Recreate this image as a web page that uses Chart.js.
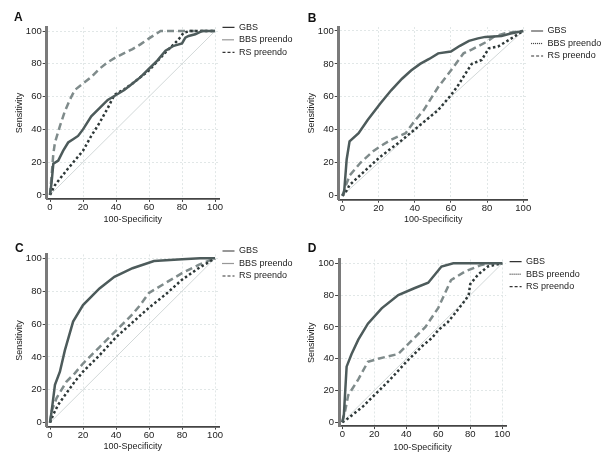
<!DOCTYPE html>
<html>
<head>
<meta charset="utf-8">
<script src="https://cdn.jsdelivr.net/npm/chart.js@4/dist/chart.umd.min.js"></script>
<style>
  body { margin: 0; background: #fff; }
  #wrap { position: relative; width: 613px; height: 462px; overflow: hidden; }
  canvas { position: absolute; }
</style>
</head>
<body>
<div id="wrap"></div>
<script>
// DATA: ROC points [100-Specificity, Sensitivity]
const seriesLabels = ["GBS", "BBS preendo", "RS preendo"];
const tickValues = [0, 20, 40, 60, 80, 100];
const panelLetters = ["A", "B", "C", "D"];

const gbsA = [[0,0],[1,8],[2,19],[5,21],[8,27],[11,32],[14,34],[17,36],[20,40],[25,48],[30,53],[35,58],[40,61],[45,64],[50,68],[55,72],[60,77],[65,82],[70,88],[75,91],[80,92.5],[82,96],[84,97],[88,98],[92,100],[100,100]];
const bbsA = [[0,0],[1,2],[3,6],[10,15],[20,27],[25,36],[30,44],[35,53],[39,61],[45,64.5],[50,68],[60,76],[70,87],[75,92],[78,95],[81,99],[85,100],[100,100]];
const rsA = [[0,0],[1,12],[2,25],[3,32],[6,42],[9,51],[12,58],[15,64],[20,68],[25,72],[30,77],[35,81],[40,84],[50,89],[55,92],[60,95.5],[67,100],[100,100]];

const gbsB = [[0,0],[1,2],[2.4,22],[4,33],[9,38],[14,46],[21,56],[27,64],[33,71],[38,76],[43,80],[48,83],[53,86.4],[60,87.5],[65,91],[70,94],[75,95.5],[79,96.4],[88,97],[93,98.5],[100,100]];
const bbsB = [[0,0],[1.5,1.4],[4,6.5],[11,13.6],[21,23.7],[31,32],[42,42],[53,52],[60,61],[64,67],[68,74],[71.5,80],[77,82.4],[81,89.5],[86,90.5],[92,94.5],[100,100]];
const rsB = [[0,0],[2.4,7.5],[4.2,12.5],[10,20],[17,27],[21,30],[27,34],[35,38],[39,44],[45,52],[53,66],[60,76],[67,86.4],[72,89],[79,93],[84,96.6],[90,98.6],[100,100]];

const gbsC = [[0,0],[1,7],[3,23],[6,31],[9,44],[14,61.5],[20,71.6],[30,81.7],[39,88.8],[50,94],[63,98.4],[80,99.4],[91,100],[100,100]];
const bbsC = [[0,0],[2,5],[5,11],[10,18],[15,25],[20,31],[30,41],[40,52],[50,61],[60,70],[70,78],[80,87],[90,94],[100,100]];
const rsC = [[0,0],[1,7],[4,15],[10,25],[15,30],[20,36],[30,46],[40,56],[50,66],[55,72],[60,79],[70,85],[80,91],[90,96],[100,100]];

const gbsD = [[0,0],[1,5],[2.7,35],[5.8,43],[10,52],[16,62],[24.6,71.7],[35,80],[45,84.3],[53.7,87.8],[62,98],[69.4,100],[100,100]];
const bbsD = [[0,0],[3,2],[8,6],[13,10],[20,17],[30,27],[40,38],[50,48],[56,53],[60,58],[66,63],[70,68],[77,77],[79,80],[80,87],[85,93],[91,98],[100,100]];
const rsD = [[0,0],[1.7,6.7],[3.7,17],[10,27],[16,38],[22.5,40],[35,43],[43,51],[52,60],[60,72],[68,89.5],[77,95],[87,99],[92,100],[100,100]];

const panelSeries = [
  [gbsA, bbsA, rsA],
  [gbsB, bbsB, rsB],
  [gbsC, bbsC, rsC],
  [gbsD, bbsD, rsD]
];

// page geometry of each panel (canvas box, plot area, text anchors)
const frames = [
  { box: [0, 0, 305, 232], area: [46.7, 27.1, 219, 198.9], legendY: 27.3, letterX: 14, letterY: 18, yTitleX: 19.2, xTitleY: 220 },
  { box: [305, 0, 308, 232], area: [338.7, 27, 527.6, 199.7], legendY: 31, letterX: 307.7, letterY: 18.3, yTitleX: 311.7, xTitleY: 220 },
  { box: [0, 236, 305, 226], area: [46.7, 254.4, 219, 426.6], legendY: 251, letterX: 15, letterY: 248.3, yTitleX: 19.2, xTitleY: 446.7 },
  { box: [305, 236, 308, 226], area: [339.1, 259.5, 506.1, 426.1], legendY: 261.7, letterX: 307.7, letterY: 248.3, yTitleX: 311.3, xTitleY: 447.7 }
];

const lineColors = ["#4d5b5b", "#2e3838", "#7f8b8b"];
const lineDash = [[], [2.5, 2.5], [7, 4]];
const legendDash = [[], [1, 1], [3, 2]];
const FONT = "'Liberation Sans', Arial, sans-serif";
const LEGEND_SIZE = 9;

// fixed legend width: padding + sample + gap + longest label (+ a little room)
const measure = document.createElement("canvas").getContext("2d");
measure.font = LEGEND_SIZE + "px " + FONT;
const legendW = 3.5 + 12 + LEGEND_SIZE / 2 + 4 +
  Math.max(...seriesLabels.map(t => measure.measureText(t).width));

function makePanel(i) {
  const f = frames[i];
  const [cl, ct, cw, ch] = f.box;
  const [al, at, ar, ab] = f.area;

  const padLeft = f.letterX - cl;
  const padTop = f.legendY - ct - 8;
  const titleH = at - ct - padTop;
  const xAxisH = f.xTitleY - ab + 5.4;
  const padBottom = ch - (ab - ct) - xAxisH;
  const padRight = cw - (ar - cl) - legendW;
  const yAxisW = al - cl - padLeft;
  const letterPad = f.letterY - (ct + padTop) - titleH / 2;

  const canvas = document.createElement("canvas");
  canvas.width = cw;
  canvas.height = ch;
  canvas.style.left = cl + "px";
  canvas.style.top = ct + "px";
  document.getElementById("wrap").appendChild(canvas);

  const datasets = panelSeries[i].map((pts, k) => ({
    label: seriesLabels[k],
    data: pts.map(p => ({ x: p[0], y: p[1] })),
    borderColor: lineColors[k],
    borderWidth: 2.5,
    borderDash: lineDash[k],
    pointRadius: 0,
    tension: 0,
    fill: false
  }));

  // chance diagonal
  datasets.push({
    label: "",
    data: [{ x: 0, y: 0 }, { x: 100, y: 100 }],
    borderColor: "#d2d8d8",
    borderWidth: 1,
    pointRadius: 0,
    order: 10
  });

  const grid = {
    color: c => (c.tick && c.tick.value === 0) ? "rgba(0,0,0,0)" : "#e1e7e7",
    lineWidth: 1,
    tickColor: "#444",
    tickWidth: 1
  };

  new Chart(canvas, {
    type: "line",
    data: { datasets },
    options: {
      responsive: false,
      animation: false,
      devicePixelRatio: 1,
      layout: { padding: { left: padLeft, top: padTop, right: padRight, bottom: padBottom } },
      plugins: {
        tooltip: { enabled: false },
        title: {
          display: true,
          text: panelLetters[i],
          align: "start",
          color: "#111",
          font: { family: FONT, size: 12, weight: "bold", lineHeight: titleH + "px" },
          padding: { top: letterPad, bottom: -letterPad }
        },
        legend: {
          position: "right",
          align: "start",
          maxWidth: legendW,
          labels: {
            usePointStyle: true,
            pointStyle: "line",
            pointStyleWidth: 12,
            padding: 3.5,
            color: "#222",
            font: { family: FONT, size: LEGEND_SIZE },
            generateLabels: chart =>
              Chart.defaults.plugins.legend.labels.generateLabels(chart)
                .filter(it => it.text)
                .map(it => Object.assign(it, {
                  lineWidth: 1.2,
                  strokeStyle: "#333",
                  lineDash: legendDash[it.datasetIndex]
                }))
          }
        }
      },
      scales: {
        x: {
          type: "linear",
          min: -2,
          max: 102.4,
          afterBuildTicks: s => { s.ticks = tickValues.map(v => ({ value: v })); },
          afterFit: s => { s.height = xAxisH; },
          grid: Object.assign({ tickLength: 3 }, grid),
          border: { display: true, color: "#444", width: 1.8, dash: [2, 2] },
          ticks: { autoSkip: false, maxRotation: 0, padding: 0, color: "#222", font: { family: FONT, size: 9.5 } },
          title: { display: true, text: "100-Specificity", color: "#222", padding: 0, font: { family: FONT, size: 9 } }
        },
        y: {
          type: "linear",
          min: -2.4,
          max: 102.4,
          afterBuildTicks: s => { s.ticks = tickValues.map(v => ({ value: v })); },
          afterFit: s => { s.width = yAxisW; },
          grid: Object.assign({ tickLength: 4 }, grid),
          border: { display: true, color: "#7a7a7a", width: 3, dash: [2, 2] },
          ticks: { autoSkip: false, padding: 1, color: "#222", font: { family: FONT, size: 9.5 } },
          title: {
            display: true,
            text: "Sensitivity",
            color: "#222",
            padding: { top: f.yTitleX - (cl + padLeft) - 5.4, bottom: 0 },
            font: { family: FONT, size: 9 }
          }
        }
      }
    }
  });
}

for (let i = 0; i < 4; i++) makePanel(i);
</script>
</body>
</html>
